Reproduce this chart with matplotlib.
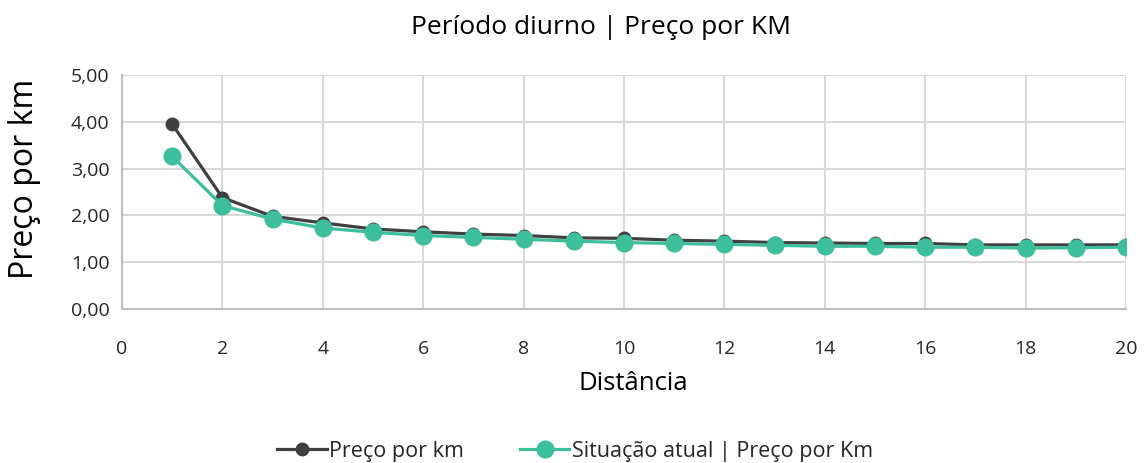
import numpy as np
import matplotlib
matplotlib.use("Agg")
import matplotlib.pyplot as plt
from matplotlib.ticker import FuncFormatter

plt.rcParams["font.family"] = ["Open Sans", "DejaVu Sans"]

# ── data ───────────────────────────────────────────────────────────────────────
distancia = list(range(1, 21))
preco_km = [3.95, 2.38, 1.98, 1.84, 1.71, 1.65, 1.60, 1.57, 1.52, 1.51,
            1.47, 1.45, 1.42, 1.41, 1.40, 1.40, 1.37, 1.37, 1.37, 1.37]
situacao_atual = [3.26, 2.21, 1.92, 1.73, 1.64, 1.57, 1.53, 1.49, 1.45, 1.42,
                  1.40, 1.38, 1.36, 1.34, 1.34, 1.32, 1.32, 1.30, 1.31, 1.32]
x_ticks = list(range(0, 21, 2))
y_ticks = [0, 1, 2, 3, 4, 5]

DARK = "#404040"
GREEN = "#3dbf9c"
GRID = "#d9d9d9"
TEXT = "#262626"

W, H = 1145, 463
fig = plt.figure(figsize=(W / 100, H / 100), dpi=100)
ax = fig.add_axes([122 / W, 1 - 309 / H, (1126 - 122) / W, (309 - 75) / H])

ax.plot(distancia, preco_km, color=DARK, linewidth=2.3, marker="o",
        markersize=9, label="Preço por km", zorder=3)
ax.plot(distancia, situacao_atual, color=GREEN, linewidth=2.3, marker="o",
        markersize=12, label="Situação atual | Preço por Km", zorder=4)

ax.set_xlim(0, 20)
ax.set_ylim(0, 5)
ax.set_xticks(x_ticks)
ax.set_yticks(y_ticks)
ax.yaxis.set_major_formatter(FuncFormatter(lambda v, _: f"{v:.2f}".replace(".", ",")))
ax.grid(True, color=GRID, linewidth=1.5)
ax.set_axisbelow(True)
ax.tick_params(length=0, labelsize=14, colors=TEXT, pad=9)
ax.tick_params(axis="x", pad=22)
for s in ["top", "right"]:
    ax.spines[s].set_visible(False)
for s in ["left", "bottom"]:
    ax.spines[s].set_color("#bfbfbf")
    ax.spines[s].set_linewidth(1.5)

fig.text(601 / W, 1 - 28 / H, "Período diurno | Preço por KM", fontsize=19,
         color="black", ha="center", va="center")
fig.text(633 / W, 1 - 384 / H, "Distância", fontsize=18.5,
         color="black", ha="center", va="center")
fig.text(25 / W, 1 - 179 / H, "Preço por km", fontsize=23, rotation=90,
         color="black", ha="center", va="center")

fig.legend(*ax.get_legend_handles_labels(), loc="center",
           bbox_to_anchor=(575 / W, 1 - 451 / H), ncol=2, frameon=False,
           fontsize=15.5, handlelength=2.3, handletextpad=0.1, columnspacing=2.6,
           labelcolor=TEXT)

fig.savefig("out.png", dpi=100)
